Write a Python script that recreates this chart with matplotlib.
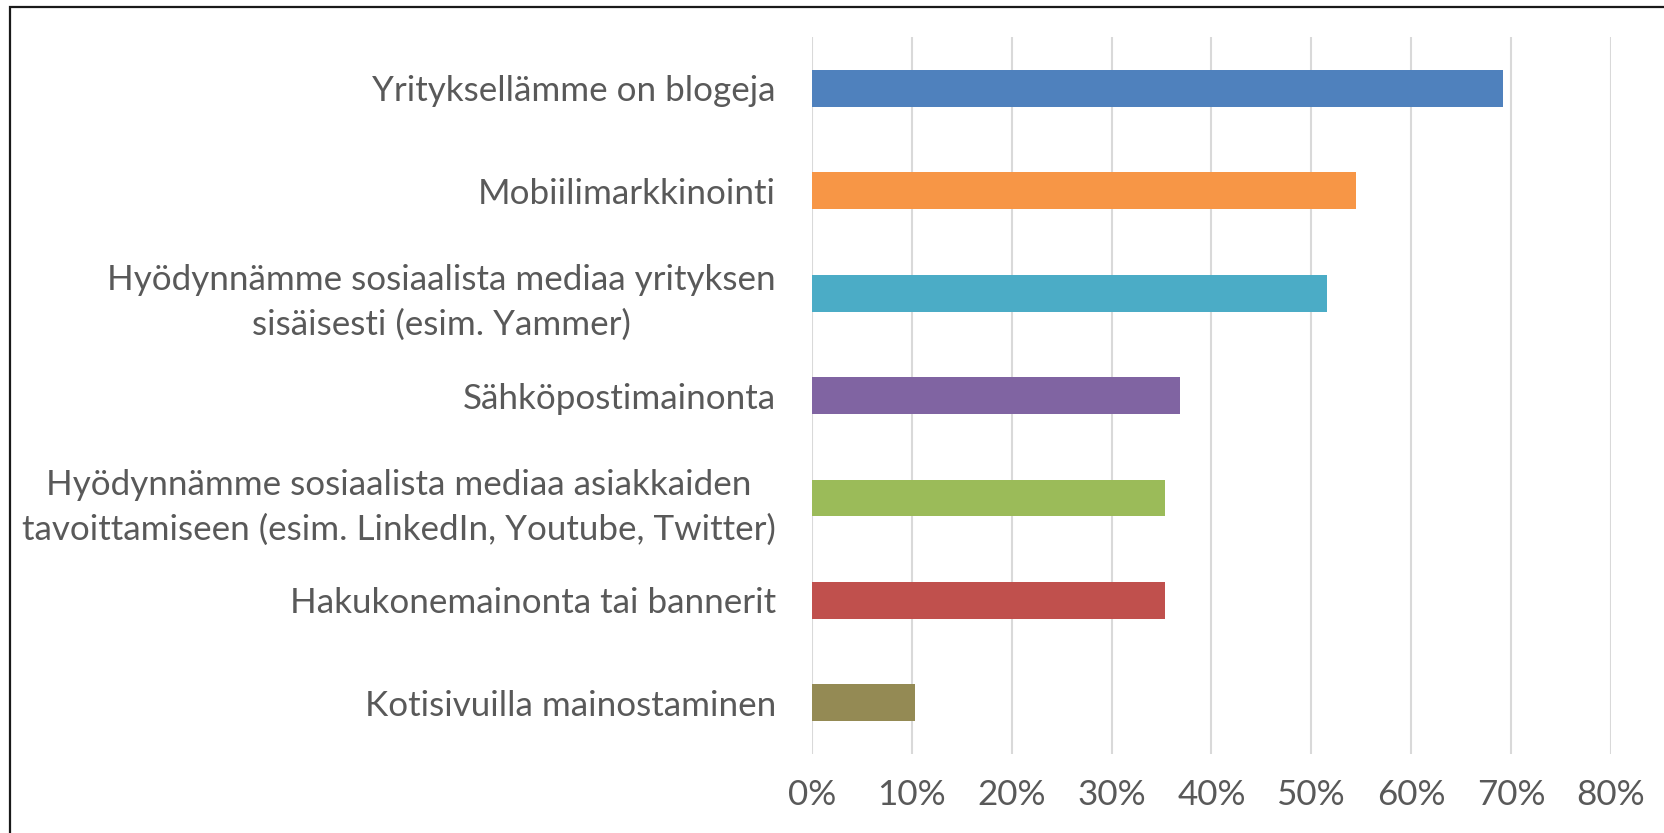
import matplotlib.pyplot as plt
from matplotlib.patches import Rectangle
from matplotlib.ticker import FuncFormatter

# Share of companies using each digital marketing channel
categories = [
    'Yrityksellämme on blogeja',
    'Mobiilimarkkinointi',
    'Hyödynnämme sosiaalista mediaa yrityksen\nsisäisesti (esim. Yammer)',
    'Sähköpostimainonta',
    'Hyödynnämme sosiaalista mediaa asiakkaiden\n'
    'tavoittamiseen (esim. LinkedIn, Youtube, Twitter)',
    'Hakukonemainonta tai bannerit',
    'Kotisivuilla mainostaminen',
]
shares = [0.692, 0.545, 0.516, 0.369, 0.354, 0.354, 0.103]
colors = ['#4f81bd', '#f79646', '#4bacc6', '#8064a2',
          '#9bbb59', '#c0504d', '#948a54']
x_ticks = [0.0, 0.1, 0.2, 0.3, 0.4, 0.5, 0.6, 0.7, 0.8]

plt.rcParams['font.family'] = ['Lato', 'DejaVu Sans']
text_color = '#595959'

fig = plt.figure(figsize=(16.64, 8.33), dpi=100)
ax = fig.add_axes([0.488, 0.0948, 0.480, 0.8608])

# Bars from top to bottom
positions = list(range(len(categories)))
ax.barh(positions, shares, height=0.36, color=colors, zorder=3)
ax.set_ylim(len(categories) - 0.5, -0.5)
ax.set_xlim(0, 0.8)

ax.set_yticks(positions)
ax.set_yticklabels(categories, fontsize=25.2, color=text_color,
                   multialignment='center', linespacing=1.5)
ax.set_xticks(x_ticks)
ax.xaxis.set_major_formatter(FuncFormatter(lambda v, _: f'{v * 100:.0f}%'))
ax.tick_params(axis='x', labelsize=25.2, labelcolor=text_color, length=0,
               pad=18)
ax.tick_params(axis='y', length=0, pad=26)

ax.grid(axis='x', color='#d9d9d9', linewidth=1.5, zorder=0)
for spine in ax.spines.values():
    spine.set_visible(False)

# Outer frame, running off the right and bottom edges
fig.patches.append(Rectangle((10 / 1664, -0.1), 1.2, 1.1 - 7 / 833,
                             transform=fig.transFigure, fill=False,
                             edgecolor='#1a1a1a', linewidth=1.6))

fig.savefig('out.png', dpi=100)
